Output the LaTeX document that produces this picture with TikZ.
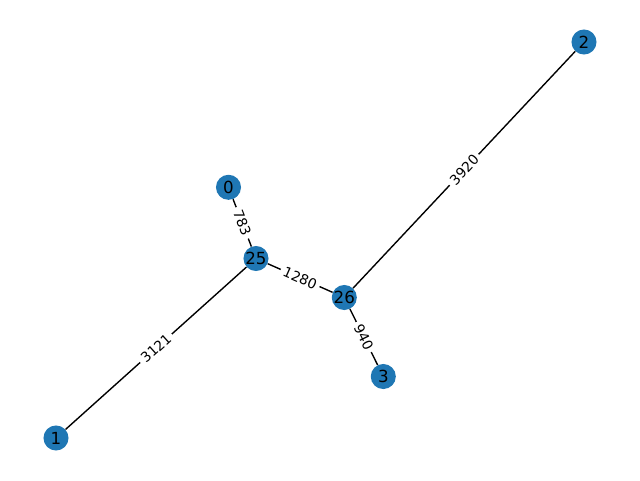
\documentclass[tikz,border=0pt]{standalone}
\usepackage{fontspec}
\setmainfont{DejaVu Sans}
\begin{document}
\begin{tikzpicture}[x=0.75pt,y=-0.75pt,
  vert/.style={circle,fill={rgb,255:red,31;green,119;blue,180},minimum size=18.8pt,inner sep=0pt,font=\fontsize{12.5}{12.5}\selectfont,text=black},
  edge/.style={draw=black,line width=1.04pt},
  elabel/.style={midway,sloped,fill=white,rounded corners=2pt,inner sep=2.6pt,font=\fontsize{10.4}{10.4}\selectfont}]
\useasboundingbox (0,0) rectangle (640,480);
\node[vert] (n0) at (228.5,187.3) {0};
\node[vert] (n25) at (256,258.5) {25};
\node[vert] (n26) at (344.3,297.5) {26};
\node[vert] (n3) at (383.3,376.5) {3};
\node[vert] (n1) at (56,438) {1};
\node[vert] (n2) at (584,42) {2};
\draw[edge] (n0) -- node[elabel] {783} (n25);
\draw[edge] (n25) -- node[elabel] {1280} (n26);
\draw[edge] (n1) -- node[elabel] {3121} (n25);
\draw[edge] (n26) -- node[elabel] {3920} (n2);
\draw[edge] (n26) -- node[elabel] {940} (n3);
\end{tikzpicture}
\end{document}
